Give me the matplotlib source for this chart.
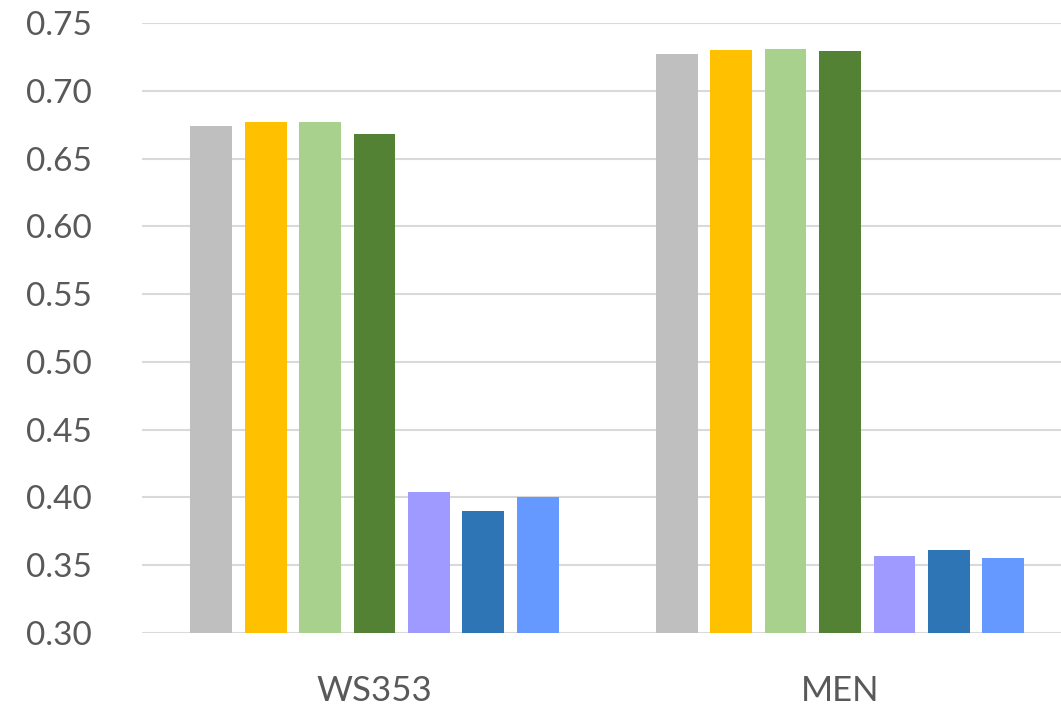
import numpy as np
import matplotlib
matplotlib.use("Agg")
from matplotlib import pyplot as plt

plt.rcParams['font.family'] = ['Lato', 'DejaVu Sans']

datasets = ["WS353", "MEN"]
series_colors = ["#BFBFBF", "#FFC000", "#A9D18E", "#548235", "#9E9AFF", "#2E75B6", "#6699FF"]
# one row per series, one column per dataset
scores = [
    [0.674, 0.727],
    [0.677, 0.730],
    [0.677, 0.731],
    [0.668, 0.729],
    [0.404, 0.357],
    [0.390, 0.361],
    [0.400, 0.355],
]
yticks = [0.30, 0.35, 0.40, 0.45, 0.50, 0.55, 0.60, 0.65, 0.70, 0.75]

fig = plt.figure(figsize=(10.61, 7.08), dpi=100)
ax = fig.add_axes([141.75 / 1061, 75 / 708, 931 / 1061, 610 / 708])

x = np.arange(len(datasets))
step = 0.117
width = 0.090
n = len(scores)
for i, vals in enumerate(scores):
    offs = (i - (n - 1) / 2) * step
    ax.bar(x + offs, np.array(vals) - 0.30, width, bottom=0.30,
           color=series_colors[i], zorder=3)

ax.set_xlim(-0.5, 1.5)
ax.set_ylim(0.30, 0.75)
ax.set_yticks(yticks)
ax.set_yticklabels([f"{v:.2f}" for v in yticks])
ax.set_xticks(x)
ax.set_xticklabels(datasets)
ax.grid(axis='y', color='#D9D9D9', linewidth=1.5, zorder=0)
ax.set_axisbelow(True)
for s in ax.spines.values():
    s.set_visible(False)
ax.tick_params(axis='both', length=0, colors='#595959')
ax.tick_params(axis='y', pad=36, labelsize=24)
ax.tick_params(axis='x', pad=30, labelsize=25)

fig.savefig("out.png", dpi=100)
